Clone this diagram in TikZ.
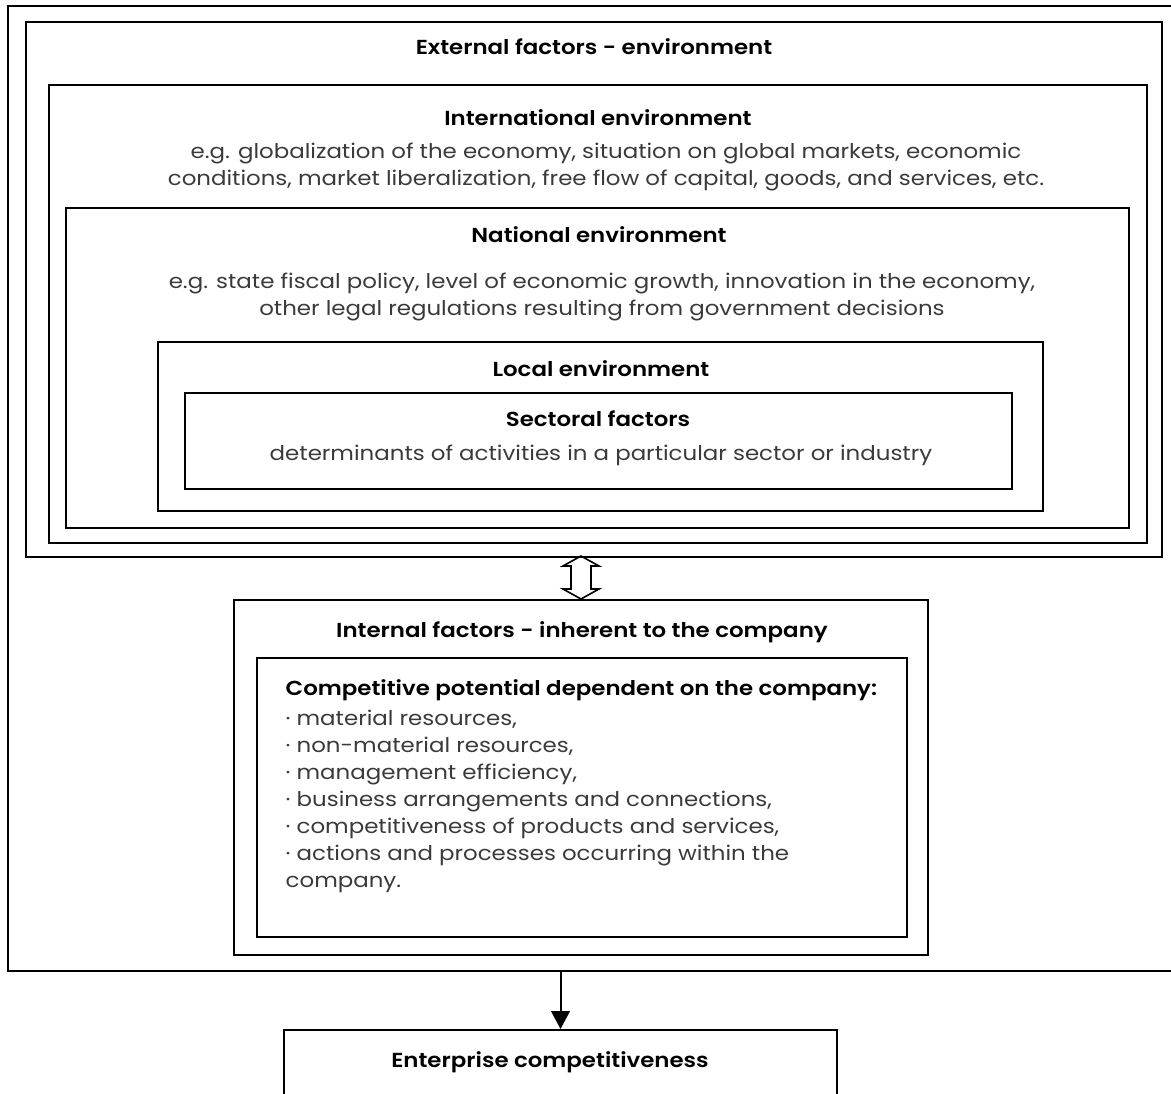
\documentclass[tikz,border=0pt]{standalone}
\usepackage{fontspec}
\setmainfont{Poppins}[BoldFont={Poppins SemiBold},FakeStretch=1.13]
\usetikzlibrary{positioning,fit,arrows.meta}
\definecolor{bodygray}{HTML}{3A3A3A}
\begin{document}
\begin{tikzpicture}[x=0.75pt,y=-0.75pt,
    frame/.style={draw,line width=1.5pt,inner sep=0pt},
    ttl/.style={anchor=base,font=\fontsize{15.2}{18}\selectfont\bfseries},
    txt/.style={anchor=base,text=bodygray,font=\fontsize{15.2}{18}\selectfont}]
    \useasboundingbox (0,0) rectangle (1171,1093);
    % outer frame, open to the right
    \draw[line width=1.5pt] (1190,6) -- (8,6) -- (8,971) -- (1190,971);
    \coordinate (frameb) at (0,971);
    % nested boxes
    \node[frame,fit={(26,22) (1162,557)}] (ext) {};
    \node[frame,fit={(49,85) (1147,543)}] (intl) {};
    \node[frame,fit={(66,208) (1129,528)}] (natl) {};
    \node[frame,fit={(158,342) (1043,511)}] (local) {};
    \node[frame,fit={(185,393) (1012,489)}] (sect) {};
    \node[frame,fit={(234,600) (928,955)}] (inner) {};
    \node[frame,fit={(257,658) (907,937)}] (comp) {};
    \node[frame,fit={(284,1030) (837,1120)}] (ent) {};
    % texts
    \node[ttl] (ext-t) at (594,54) {External factors - environment};
    \node[ttl] (intl-t) at (598,125) {International environment};
    \node[txt] (intl-a) at (606,158) {e.g. globalization of the economy, situation on global markets, economic};
    \node[txt] (intl-b) at (606,185) {conditions, market liberalization, free flow of capital, goods, and services, etc.};
    \node[ttl] (natl-t) at (599,242) {National environment};
    \node[txt] (natl-a) at (602,288) {e.g. state fiscal policy, level of economic growth, innovation in the economy,};
    \node[txt] (natl-b) at (602,315) {other legal regulations resulting from government decisions};
    \node[ttl] (local-t) at (601,376) {Local environment};
    \node[ttl] (sect-t) at (598,426) {Sectoral factors};
    \node[txt] (sect-a) at (601,460) {determinants of activities in a particular sector or industry};
    \node[ttl] (inner-t) at (582,637) {Internal factors - inherent to the company};
    \node[ttl,anchor=base west] (comp-t) at (281,695) {Competitive potential dependent on the company:};
    \foreach \item [count=\i] in {{material resources,},{non-material resources,},{management efficiency,},
        {business arrangements and connections,},{competitiveness of products and services,},
        {actions and processes occurring within the}}
    {
        \node[txt,anchor=base west] (comp-\i) at (281,698+27*\i) {· \item};
    }
    \node[txt,anchor=base west] (comp-7) at (281,887) {company.};
    \node[ttl] (ent-t) at (550,1067) {Enterprise competitiveness};
    % connectors
    \draw[line width=1.2pt,line join=miter] (inner.north) -- ++(-18,-10) -- ++(8,0) -- ++(0,-23) -- ++(-8,0)
        -- ++(18,-10) -- ++(18,10) -- ++(-8,0) -- ++(0,23) -- ++(8,0) -- cycle;
    \draw[line width=1.5pt,-{Triangle[length=13.5pt,width=14pt]}] (ent.north |- frameb) -- (ent.north);
\end{tikzpicture}
\end{document}
